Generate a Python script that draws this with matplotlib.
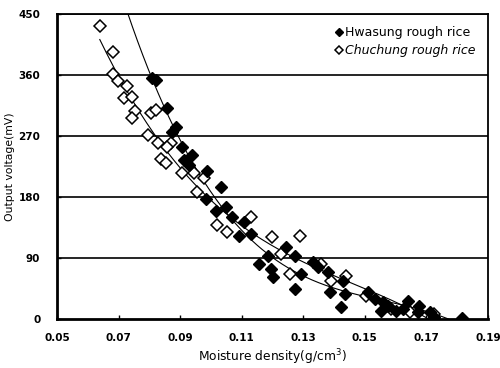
import numpy as np
import matplotlib.pyplot as plt

# ---- data ----
hw_x = [0.0810, 0.0823, 0.0858, 0.0887, 0.0874, 0.0906, 0.0939, 0.0913, 0.0929, 0.0987,
        0.0984, 0.1032, 0.1016, 0.1048, 0.1068, 0.1090, 0.1106, 0.1129, 0.1245, 0.1187,
        0.1155, 0.1194, 0.1203, 0.1274, 0.1294, 0.1274, 0.1332, 0.1348, 0.1381, 0.1387,
        0.1429, 0.1435, 0.1423, 0.1510, 0.1532, 0.1558, 0.1552, 0.1574, 0.1600, 0.1639,
        0.1623, 0.1677, 0.1671, 0.1713, 0.1726, 0.1816]
hw_y = [355, 352, 311, 283, 276, 254, 242, 234, 227, 218,
        177, 195, 159, 165, 150, 122, 143, 125, 106, 93,
        81, 74, 62, 93, 66, 44, 84, 77, 69, 40,
        56, 37, 18, 40, 29, 25, 12, 19, 12, 27,
        15, 19, 10, 10, 3, 1]

ch_x = [0.0639, 0.0681, 0.0681, 0.0697, 0.0729, 0.0719, 0.0745, 0.0752, 0.0742, 0.0806,
        0.0823, 0.0794, 0.0829, 0.0871, 0.0858, 0.0839, 0.0855, 0.0906, 0.0945, 0.0977,
        0.0955, 0.1019, 0.1052, 0.1129, 0.1197, 0.1290, 0.1229, 0.1258, 0.1358, 0.1390,
        0.1439, 0.1503, 0.1584, 0.1648, 0.1726]
ch_y = [432, 394, 361, 351, 344, 326, 327, 307, 296, 304,
        308, 271, 260, 260, 254, 236, 230, 215, 215, 208,
        187, 139, 128, 150, 121, 122, 96, 66, 81, 56,
        63, 34, 15, 10, 7]

xticks = [0.05, 0.07, 0.09, 0.11, 0.13, 0.15, 0.17, 0.19]
yticks = [0, 90, 180, 270, 360, 450]

# polynomial trend lines fitted to the points
hw_f = np.poly1d(np.polyfit(hw_x, hw_y, 3))
ch_f = np.poly1d(np.polyfit(ch_x, ch_y, 3))

fig = plt.figure(figsize=(5, 3.68), dpi=100)
ax = fig.add_axes([0.114, 0.133, 0.862, 0.829])

for v in yticks[1:]:
    ax.axhline(v, color='k', lw=1.2, zorder=1)

t1 = np.linspace(0.07, max(hw_x), 200)
t2 = np.linspace(min(ch_x), max(ch_x), 200)
ax.plot(t1, hw_f(t1), 'k-', lw=0.8, zorder=2)
ax.plot(t2, ch_f(t2), 'k-', lw=0.8, zorder=2)

ax.plot(ch_x, ch_y, 'D', ms=6.2, mfc='white', mec='k', mew=1.1, ls='none',
        label='Chuchung rough rice', zorder=3)
ax.plot(hw_x, hw_y, 'D', ms=6.2, mfc='k', mec='k', ls='none',
        label='Hwasung rough rice', zorder=4)

ax.set_xlim(0.05, 0.19)
ax.set_ylim(0, 450)
ax.set_xticks(xticks)
ax.set_xticklabels(['%.2f' % v for v in xticks])
ax.set_yticks(yticks)
ax.tick_params(axis='x', labelsize=7.5, width=1, length=3, direction='in', pad=10)
ax.tick_params(axis='y', labelsize=7.5, width=1, length=3, direction='in', pad=12)
for lab in ax.get_xticklabels() + ax.get_yticklabels():
    lab.set_fontweight('bold')
for s in ax.spines.values():
    s.set_linewidth(1.3)
ax.spines['left'].set_linewidth(2)
ax.spines['bottom'].set_linewidth(2)

ax.set_xlabel('Moisture density(g/cm$^3$)', fontsize=8.8, labelpad=3)
ax.set_ylabel('Output voltage(mV)', fontsize=7.8)
ax.yaxis.set_label_coords(-0.097, 0.5)

h, l = ax.get_legend_handles_labels()
leg = ax.legend(h[::-1], l[::-1], loc='upper right', frameon=False, fontsize=9,
                handlelength=0.5, handletextpad=0.2, borderaxespad=0.6,
                labelspacing=0.4, markerscale=0.6)
leg.get_texts()[1].set_fontstyle('italic')

fig.savefig('out.png', dpi=100)
